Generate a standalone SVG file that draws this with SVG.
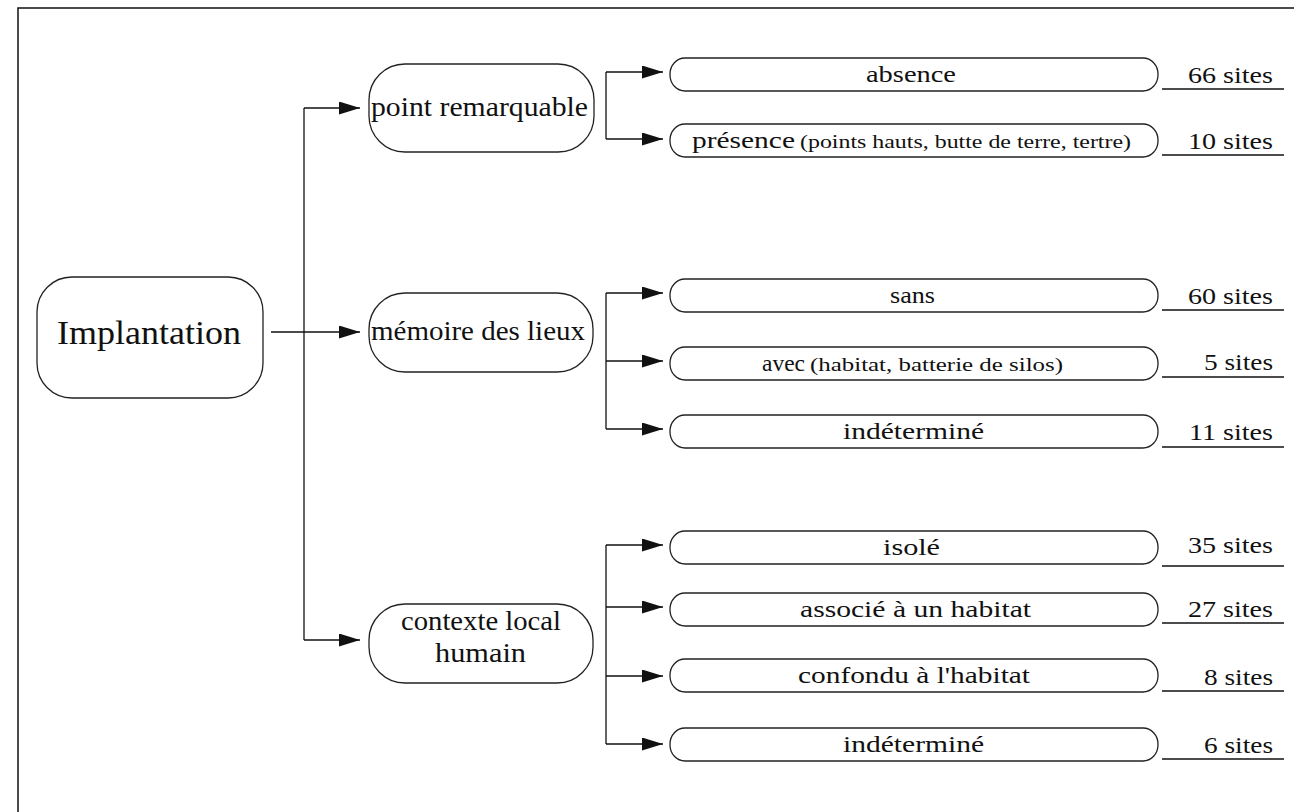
<svg xmlns="http://www.w3.org/2000/svg" width="1294" height="812" viewBox="0 0 1294 812">
<style>
.frame{fill:none;stroke:#111;stroke-width:1.5}
.node{fill:#fff;stroke:#222;stroke-width:1.3}
.leaf{fill:#fff;stroke:#222;stroke-width:1.3}
.ln{fill:none;stroke:#111;stroke-width:1.3}
.ul{fill:none;stroke:#111;stroke-width:1.3}
text{font-family:"Liberation Serif","Times New Roman",serif;fill:#111}
.nt{font-size:28px}
.big{font-size:33px}
.lt{font-size:24px}
.pt{font-size:18px}
.ct{font-size:23px}
</style>
<defs>
<marker id="arr" markerUnits="userSpaceOnUse" markerWidth="22" markerHeight="14" refX="21" refY="6.5" orient="auto">
<path d="M0,0 L21,6.5 L0,13 z" fill="#111"/>
</marker>
</defs>
<rect class="frame" x="18" y="8" width="1400" height="1000"/>
<g id="connectors">
<path class="ln" d="M271,332 H360" marker-end="url(#arr)"/>
<path class="ln" d="M304,108 V640"/>
<path class="ln" d="M304,108 H360" marker-end="url(#arr)"/>
<path class="ln" d="M304,640 H360" marker-end="url(#arr)"/>
<path class="ln" d="M606,72 V139"/>
<path class="ln" d="M606,72 H663" marker-end="url(#arr)"/>
<path class="ln" d="M606,139 H663" marker-end="url(#arr)"/>
<path class="ln" d="M606,293 V429"/>
<path class="ln" d="M606,293 H663" marker-end="url(#arr)"/>
<path class="ln" d="M606,361 H663" marker-end="url(#arr)"/>
<path class="ln" d="M606,429 H663" marker-end="url(#arr)"/>
<path class="ln" d="M606,545 V744"/>
<path class="ln" d="M606,545 H663" marker-end="url(#arr)"/>
<path class="ln" d="M606,607 H663" marker-end="url(#arr)"/>
<path class="ln" d="M606,676 H663" marker-end="url(#arr)"/>
<path class="ln" d="M606,744 H663" marker-end="url(#arr)"/>
</g>
<g id="implantation">
<rect class="node" x="37" y="277" width="226" height="121" rx="35" ry="35"/>
<text class="big" x="57" y="344" textLength="184" lengthAdjust="spacingAndGlyphs">Implantation</text>
</g>
<g id="point-remarquable">
<rect class="node" x="369" y="64" width="225" height="88" rx="36" ry="36"/>
<text class="nt" x="371" y="116" textLength="217" lengthAdjust="spacingAndGlyphs">point remarquable</text>
</g>
<g id="memoire">
<rect class="node" x="369" y="293" width="224" height="79" rx="36" ry="36"/>
<text class="nt" x="371" y="340" textLength="214" lengthAdjust="spacingAndGlyphs">mémoire des lieux</text>
</g>
<g id="contexte">
<rect class="node" x="369" y="604" width="224" height="79" rx="36" ry="36"/>
<text class="nt" x="401" y="630" textLength="160" lengthAdjust="spacingAndGlyphs">contexte local</text>
<text class="nt" x="435" y="662" textLength="91" lengthAdjust="spacingAndGlyphs">humain</text>
</g>
<g id="leaf-absence">
<rect class="leaf" x="670" y="58" width="488" height="33" rx="15" ry="16"/>
<text class="lt" x="866" y="82" textLength="90" lengthAdjust="spacingAndGlyphs">absence</text>
<text class="ct" x="1188" y="83" textLength="85" lengthAdjust="spacingAndGlyphs">66 sites</text>
<path class="ul" d="M1162,89 H1284"/>
</g>
<g id="leaf-presence">
<rect class="leaf" x="670" y="124" width="488" height="33" rx="15" ry="16"/>
<text class="lt" x="692" y="148" textLength="103" lengthAdjust="spacingAndGlyphs">présence</text>
<text class="pt" x="800" y="148" textLength="331" lengthAdjust="spacingAndGlyphs">(points hauts, butte de terre, tertre)</text>
<text class="ct" x="1188" y="149" textLength="85" lengthAdjust="spacingAndGlyphs">10 sites</text>
<path class="ul" d="M1162,155 H1284"/>
</g>
<g id="leaf-sans">
<rect class="leaf" x="670" y="279" width="488" height="33" rx="15" ry="16"/>
<text class="lt" x="890" y="303" textLength="45" lengthAdjust="spacingAndGlyphs">sans</text>
<text class="ct" x="1188" y="304" textLength="85" lengthAdjust="spacingAndGlyphs">60 sites</text>
<path class="ul" d="M1162,310 H1284"/>
</g>
<g id="leaf-avec">
<rect class="leaf" x="670" y="347" width="488" height="33" rx="15" ry="16"/>
<text class="lt" x="762" y="371" textLength="43" lengthAdjust="spacingAndGlyphs">avec</text>
<text class="pt" x="810" y="371" textLength="253" lengthAdjust="spacingAndGlyphs">(habitat, batterie de silos)</text>
<text class="ct" x="1204" y="370" textLength="69" lengthAdjust="spacingAndGlyphs">5 sites</text>
<path class="ul" d="M1162,377 H1284"/>
</g>
<g id="leaf-indetermine-1">
<rect class="leaf" x="670" y="415" width="488" height="33" rx="15" ry="16"/>
<text class="lt" x="843" y="439" textLength="141" lengthAdjust="spacingAndGlyphs">indéterminé</text>
<text class="ct" x="1189" y="440" textLength="84" lengthAdjust="spacingAndGlyphs">11 sites</text>
<path class="ul" d="M1162,447 H1284"/>
</g>
<g id="leaf-isole">
<rect class="leaf" x="670" y="531" width="488" height="33" rx="15" ry="16"/>
<text class="lt" x="883" y="555" textLength="57" lengthAdjust="spacingAndGlyphs">isolé</text>
<text class="ct" x="1188" y="553" textLength="85" lengthAdjust="spacingAndGlyphs">35 sites</text>
<path class="ul" d="M1162,566 H1284"/>
</g>
<g id="leaf-associe">
<rect class="leaf" x="670" y="593" width="488" height="33" rx="15" ry="16"/>
<text class="lt" x="800" y="617" textLength="231" lengthAdjust="spacingAndGlyphs">associé à un habitat</text>
<text class="ct" x="1188" y="617" textLength="85" lengthAdjust="spacingAndGlyphs">27 sites</text>
<path class="ul" d="M1162,623 H1284"/>
</g>
<g id="leaf-confondu">
<rect class="leaf" x="670" y="659" width="488" height="33" rx="15" ry="16"/>
<text class="lt" x="798" y="683" textLength="232" lengthAdjust="spacingAndGlyphs">confondu à l'habitat</text>
<text class="ct" x="1204" y="685" textLength="69" lengthAdjust="spacingAndGlyphs">8 sites</text>
<path class="ul" d="M1162,691 H1284"/>
</g>
<g id="leaf-indetermine-2">
<rect class="leaf" x="670" y="728" width="488" height="33" rx="15" ry="16"/>
<text class="lt" x="843" y="752" textLength="141" lengthAdjust="spacingAndGlyphs">indéterminé</text>
<text class="ct" x="1204" y="753" textLength="69" lengthAdjust="spacingAndGlyphs">6 sites</text>
<path class="ul" d="M1162,759 H1284"/>
</g>
</svg>
